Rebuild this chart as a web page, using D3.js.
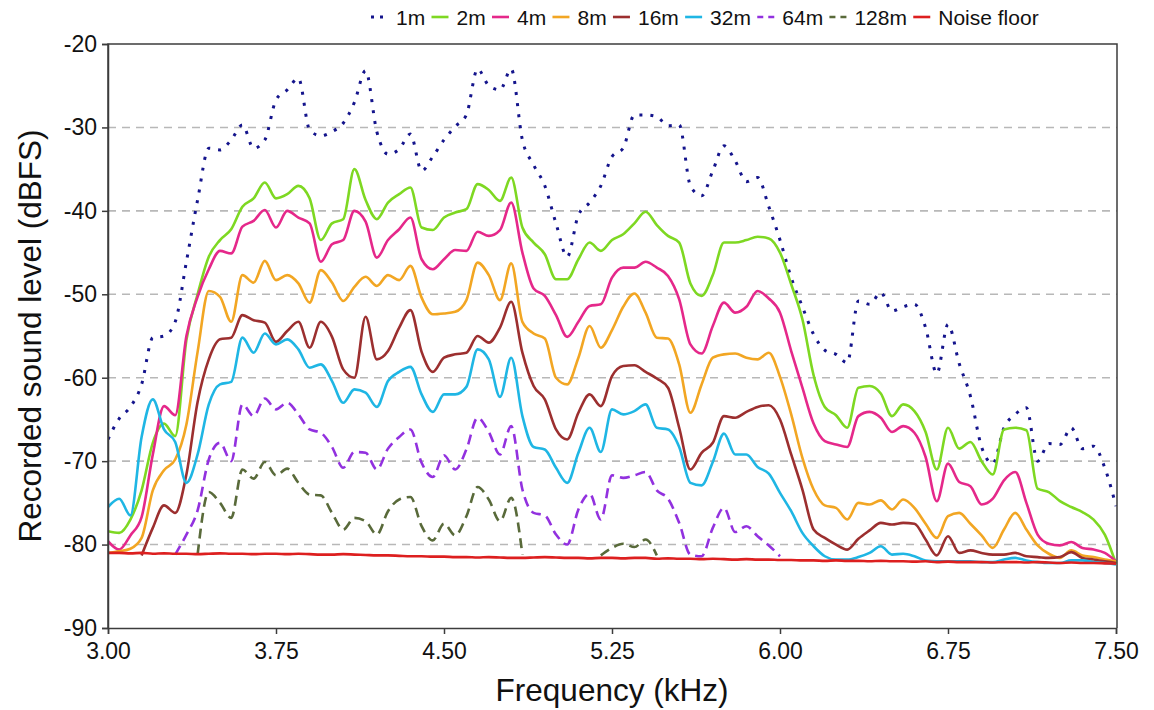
<!DOCTYPE html>
<html>
<head>
<meta charset="utf-8">
<script src="https://cdn.jsdelivr.net/npm/d3@7"></script>
<style>
  html, body { margin: 0; padding: 0; background: #ffffff; }
  svg { display: block; font-family: "Liberation Sans", Arial, sans-serif; }
</style>
</head>
<body>
<svg id="chart" width="1154" height="710"></svg>
<script>
// Frequency grid (kHz), shared by every series
const freqKHz = [
  3.00, 3.05, 3.10, 3.15, 3.20, 3.25, 3.30, 3.35, 3.40, 3.45,
  3.50, 3.55, 3.60, 3.65, 3.70, 3.75, 3.80, 3.85, 3.90, 3.95,
  4.00, 4.05, 4.10, 4.15, 4.20, 4.25, 4.30, 4.35, 4.40, 4.45,
  4.50, 4.55, 4.60, 4.65, 4.70, 4.75, 4.80, 4.85, 4.90, 4.95,
  5.00, 5.05, 5.10, 5.15, 5.20, 5.25, 5.30, 5.35, 5.40, 5.45,
  5.50, 5.55, 5.60, 5.65, 5.70, 5.75, 5.80, 5.85, 5.90, 5.95,
  6.00, 6.05, 6.10, 6.15, 6.20, 6.25, 6.30, 6.35, 6.40, 6.45,
  6.50, 6.55, 6.60, 6.65, 6.70, 6.75, 6.80, 6.85, 6.90, 6.95,
  7.00, 7.05, 7.10, 7.15, 7.20, 7.25, 7.30, 7.35, 7.40, 7.45,
  7.50
];

// Recorded sound level (dBFS) per recording distance; null = below noise floor
const level1m = [
  -67.4, -64.9, -63.5, -60.8, -55.2, -55.0, -53.3, -46.1, -38.7, -32.5,
  -32.7, -31.5, -29.7, -32.5, -31.5, -26.7, -25.5, -24.1, -30.3, -31.0,
  -30.5, -29.5, -27.0, -23.2, -30.5, -33.2, -32.6, -30.8, -35.2, -33.5,
  -31.5, -29.9, -28.5, -23.0, -25.0, -25.5, -23.0, -31.5, -34.5, -37.0,
  -41.5, -45.5, -40.5, -39.0, -37.0, -33.5, -32.5, -28.5, -28.5, -28.7,
  -29.8, -29.7, -37.0, -38.2, -35.2, -32.2, -34.0, -36.5, -36.0, -39.5,
  -43.5, -48.0, -51.5, -54.8, -56.7, -57.2, -58.2, -50.8, -51.2, -49.8,
  -52.0, -51.5, -51.2, -54.0, -59.5, -53.6, -58.3, -62.2, -68.3, -70.3,
  -66.0, -64.4, -63.6, -70.0, -67.9, -68.0, -66.0, -68.5, -68.2, -70.8,
  -75.4
];
const level2m = [
  -78.4, -78.6, -77.0, -73.5, -67.8, -65.5, -67.0, -55.5, -50.0, -45.5,
  -43.5, -42.2, -39.5, -38.5, -36.6, -38.5, -38.0, -37.0, -38.5, -43.5,
  -41.5, -41.0, -35.0, -38.7, -41.0, -39.0, -38.0, -37.2, -42.0, -42.3,
  -40.8, -40.2, -39.8, -36.8, -37.5, -38.8, -36.0, -42.0, -43.8, -45.2,
  -48.2, -48.2, -45.8, -43.8, -44.8, -43.5, -42.8, -41.5, -40.1, -41.7,
  -43.0, -43.8, -48.7, -50.2, -47.7, -43.8, -43.8, -43.5, -43.1, -43.3,
  -45.0, -48.8, -53.0, -59.7, -63.5, -64.5, -66.0, -61.2, -61.0, -61.9,
  -64.6, -63.2, -64.0, -66.5, -71.0, -66.0, -68.5, -67.7, -70.0, -71.6,
  -66.2, -66.0, -66.3, -73.3, -73.7, -74.8, -75.5, -76.1, -77.0, -78.8,
  -82.3
];
const level4m = [
  -79.6, -80.6, -78.9, -76.7, -69.2, -63.4, -64.5, -55.0, -50.3, -47.0,
  -44.8, -45.1, -41.9, -41.2, -39.9, -42.0, -40.0, -40.8, -41.5, -46.1,
  -44.0, -43.5, -40.0, -41.3, -45.6, -43.5, -42.2, -40.8, -45.8, -47.0,
  -45.8, -44.7, -44.8, -42.5, -43.0, -42.3, -39.0, -45.0, -49.3, -50.2,
  -52.5, -55.1, -53.3, -51.4, -51.2, -48.0, -46.8, -46.8, -46.1, -46.8,
  -47.8, -50.6, -56.0, -57.1, -53.8, -51.0, -52.2, -51.5, -49.6, -50.5,
  -52.2, -56.8, -61.2, -65.5, -67.6, -68.0, -68.3, -64.6, -64.1, -64.8,
  -66.5, -65.8, -66.6, -69.5, -74.8, -70.3, -72.5, -73.0, -75.2, -74.5,
  -72.3, -71.3, -75.0, -78.8, -79.9, -80.1, -79.7, -80.4, -80.6, -81.0,
  -82.0
];
const level8m = [
  -81.0, -80.8, -80.5, -79.2, -73.5, -71.1, -69.8, -65.6, -56.9, -49.6,
  -50.3, -53.3, -47.7, -48.6, -46.0, -48.3, -47.7, -48.7, -51.0, -47.1,
  -48.6, -50.8, -49.1, -47.9, -49.0, -47.7, -48.3, -46.6, -50.4, -52.4,
  -52.3, -52.1, -50.7, -46.2, -47.7, -50.7, -46.3, -53.3, -54.7, -55.3,
  -60.0, -60.8, -57.6, -53.8, -56.4, -54.3, -51.5, -49.9, -52.2, -55.2,
  -55.3, -58.4, -64.2, -60.8, -57.6, -57.2, -57.1, -57.6, -57.8, -57.0,
  -59.9, -64.4, -69.6, -73.4, -75.3, -75.6, -77.0, -75.0, -75.2, -74.7,
  -75.8, -74.6, -75.6, -77.5, -79.2, -76.6, -76.2, -77.5, -78.9, -80.4,
  -78.2, -76.2, -78.2, -80.1, -81.1, -81.6, -80.7, -81.3, -81.5, -81.8,
  -82.0
];
const level16m = [
  null, null, null, -81.3, -78.0, -75.3, -76.2, -71.6, -62.9, -57.8,
  -55.4, -55.2, -52.5, -53.1, -53.4, -55.7, -54.4, -53.3, -56.4, -53.3,
  -55.1, -59.0, -60.0, -52.7, -57.8, -56.8, -54.0, -51.9, -56.9, -59.3,
  -57.6, -57.2, -57.0, -55.0, -55.8, -54.0, -50.9, -57.0, -61.0, -62.6,
  -66.2, -67.4, -64.2, -62.0, -63.4, -59.8, -58.6, -58.5, -59.3, -60.1,
  -61.2, -66.0, -71.0, -69.0, -67.8, -64.6, -64.8, -64.1, -63.5, -63.3,
  -65.0, -69.2, -73.4, -78.2, -79.2, -80.0, -80.6, -79.3, -78.3, -77.4,
  -77.6, -77.4, -77.5, -79.4, -81.3, -79.0, -81.0, -80.7, -81.0, -81.2,
  -81.2, -81.0, -81.4, -81.5, -81.6, -81.5, -80.9, -81.6, -81.8, -82.0,
  -82.2
];
const level32m = [
  -75.5, -74.5, -76.5, -67.1, -62.6, -66.2, -67.7, -72.6, -69.2, -63.2,
  -60.8, -60.5, -55.2, -57.0, -54.7, -56.0, -55.4, -56.6, -58.8, -58.4,
  -60.4, -63.0, -61.4, -61.8, -63.5, -60.4, -59.3, -58.7, -62.0, -64.1,
  -62.0, -62.0, -61.1, -56.6, -57.8, -62.3, -57.6, -64.6, -68.3, -68.6,
  -70.8, -72.6, -69.0, -66.0, -68.9, -63.8, -64.4, -64.0, -63.2, -66.0,
  -66.2, -68.3, -72.6, -72.9, -70.1, -66.7, -69.2, -69.2, -70.7, -71.5,
  -73.8, -76.0, -78.6, -80.2, -81.4, -81.8, -81.8, -81.5, -81.0, -80.2,
  -81.2, -81.1, -81.4, -81.9, -82.0, -82.0, -82.0, -82.0, -82.1, -82.1,
  -81.8, -81.6, -81.9, -82.1, -82.2, -82.2, -81.9, -81.9, -82.1, -82.2,
  -82.4
];
const level64m = [
  null, null, null, null, null, null, -81.2, -78.8, -75.9, -69.8,
  -67.8, -70.0, -63.2, -64.6, -62.5, -63.8, -63.0, -64.4, -66.2, -66.6,
  -68.3, -70.8, -68.9, -69.0, -71.0, -68.5, -67.1, -66.2, -70.2, -71.9,
  -69.3, -71.0, -68.6, -64.8, -66.5, -69.2, -65.8, -73.4, -76.2, -76.5,
  -78.8, -80.0, -75.8, -73.9, -77.0, -71.7, -72.0, -71.7, -71.3, -73.5,
  -74.5, -77.4, -81.2, -81.4, -78.0, -75.6, -78.5, -77.8, -79.0, -80.1,
  -81.4, null, null, null, null, null, null, null, null, null,
  null, null, null, null, null, null, null, null, null, null,
  null, null, null, null, null, null, null, null, null, null,
  null
];
const level128m = [
  null, null, null, null, null, null, null, null, -81.2, -73.7,
  -75.0, -76.8, -71.0, -72.1, -70.1, -71.7, -70.9, -72.6, -74.0, -74.1,
  -76.2, -78.2, -76.8, -77.2, -78.8, -76.0, -74.6, -74.3, -77.8, -79.5,
  -77.5, -78.9, -76.6, -73.1, -74.6, -77.2, -74.4, -81.2, null, null,
  null, null, null, null, -81.3, -80.4, -79.9, -80.3, -79.4, -81.3,
  null, null, null, null, null, null, null, null, null, null,
  null, null, null, null, null, null, null, null, null, null,
  null, null, null, null, null, null, null, null, null, null,
  null, null, null, null, null, null, null, null, null, null,
  null
];
const noiseFloor = [
  -81.0, -81.0, -81.05, -81.0, -81.1, -81.05, -81.1, -81.1, -81.15, -81.1,
  -81.05, -81.1, -81.1, -81.15, -81.1, -81.1, -81.15, -81.1, -81.15, -81.2,
  -81.2, -81.15, -81.2, -81.25, -81.3, -81.3, -81.35, -81.4, -81.4, -81.45,
  -81.45, -81.5, -81.5, -81.55, -81.5, -81.55, -81.6, -81.6, -81.55, -81.5,
  -81.55, -81.6, -81.6, -81.65, -81.6, -81.6, -81.65, -81.6, -81.6, -81.7,
  -81.65, -81.7, -81.7, -81.75, -81.7, -81.75, -81.8, -81.75, -81.8, -81.8,
  -81.85, -81.85, -81.9, -81.9, -81.95, -81.9, -81.95, -81.95, -82.0, -81.95,
  -82.0, -82.0, -82.05, -82.0, -82.1, -82.05, -82.1, -82.1, -82.1, -82.15,
  -82.1, -82.1, -82.15, -82.1, -82.15, -82.2, -82.15, -82.2, -82.2, -82.25,
  -82.3
];

// Axis ticks
const yTicks = [-90, -80, -70, -60, -50, -40, -30, -20];
const xTicks = [3.00, 3.75, 4.50, 5.25, 6.00, 6.75, 7.50];
const gridLevels = [-80, -70, -60, -50, -40, -30];

// Series labels and styling (drawn in this order, noise floor on top)
const seriesLabels = ["1m", "2m", "4m", "8m", "16m", "32m", "64m", "128m", "Noise floor"];
const seriesValues = [level1m, level2m, level4m, level8m, level16m, level32m, level64m, level128m, noiseFloor];
const seriesColors = ["#14148c", "#7ed822", "#e5288a", "#f2a623", "#9c2f2f", "#1fb6e4", "#9231df", "#596a3a", "#dd1f1f"];
const seriesDash   = ["3,8", null, null, null, null, null, "10,6", "10,6", null];

const svg = d3.select("#chart");
const margin = { left: 108, right: 1116, top: 44, bottom: 628 };

const x = d3.scaleLinear().domain([3, 7.5]).range([margin.left, margin.right]);
const y = d3.scaleLinear().domain([-90, -20]).range([margin.bottom, margin.top]);

// Dashed horizontal grid
svg.append("g")
  .selectAll("line")
  .data(gridLevels)
  .join("line")
  .attr("x1", margin.left)
  .attr("x2", margin.right + 1)
  .attr("y1", d => y(d))
  .attr("y2", d => y(d))
  .attr("stroke", "#b8b8b8")
  .attr("stroke-width", 1.6)
  .attr("stroke-dasharray", "8,6");

// Clip lines to the plotting area
svg.append("defs").append("clipPath").attr("id", "plot-clip")
  .append("rect")
  .attr("x", margin.left).attr("y", margin.top)
  .attr("width", margin.right + 1 - margin.left)
  .attr("height", margin.bottom - margin.top);

const line = d3.line()
  .defined(d => d.v !== null)
  .x(d => x(d.f))
  .y(d => y(d.v))
  .curve(d3.curveMonotoneX);

const plot = svg.append("g").attr("clip-path", "url(#plot-clip)");
seriesValues.forEach((vals, i) => {
  const pts = freqKHz.map((f, k) => ({ f: f, v: vals[k] }));
  plot.append("path")
    .datum(pts)
    .attr("fill", "none")
    .attr("stroke", seriesColors[i])
    .attr("stroke-width", i === 0 ? 3 : 2.6)
    .attr("stroke-linejoin", "round")
    .attr("stroke-dasharray", seriesDash[i])
    .attr("d", line);
});

// Frame
const axisColor = "#3c3c3c";
svg.append("path")
  .attr("d", `M${margin.left},${margin.bottom}V${margin.top}H${margin.right + 1}V${margin.bottom}`)
  .attr("fill", "none")
  .attr("stroke", axisColor)
  .attr("stroke-width", 1.5);

// Y axis
const yAxis = svg.append("g")
  .attr("transform", `translate(${margin.left},0)`)
  .call(d3.axisLeft(y).tickValues(yTicks).tickFormat(d => String(d)).tickSize(6).tickPadding(5));
// X axis
const xAxis = svg.append("g")
  .attr("transform", `translate(0,${margin.bottom})`)
  .call(d3.axisBottom(x).tickValues(xTicks).tickFormat(d3.format(".2f")).tickSize(6).tickPadding(9));

[yAxis, xAxis].forEach(g => {
  g.select(".domain").attr("stroke", axisColor).attr("stroke-width", 1.5);
  g.selectAll(".tick line").attr("stroke", axisColor).attr("stroke-width", 1.5);
  g.selectAll(".tick text")
    .attr("fill", "#111")
    .style("font-size", "23px")
    .style("font-family", "'Liberation Sans', Arial, sans-serif");
});

// Axis titles
svg.append("text")
  .attr("x", (margin.left + margin.right) / 2)
  .attr("y", 701)
  .attr("text-anchor", "middle")
  .attr("fill", "#111")
  .style("font-size", "31.5px")
  .text("Frequency (kHz)");

svg.append("text")
  .attr("transform", `translate(41,${(margin.top + margin.bottom) / 2}) rotate(-90)`)
  .attr("text-anchor", "middle")
  .attr("fill", "#111")
  .style("font-size", "31.5px")
  .text("Recorded sound level (dBFS)");

// Legend across the top
const legend = svg.append("g").attr("transform", "translate(371,17)");
let lx = 0;
seriesLabels.forEach((label, i) => {
  const item = legend.append("g").attr("transform", `translate(${lx},0)`);
  item.append("line")
    .attr("x1", 0).attr("x2", 17)
    .attr("y1", 0).attr("y2", 0)
    .attr("stroke", seriesColors[i])
    .attr("stroke-width", i === 0 ? 3 : 2.6)
    .attr("stroke-dasharray", i === 0 ? "3,6" : (seriesDash[i] ? "6,5" : null));
  const t = item.append("text")
    .attr("x", 25)
    .attr("y", 7.5)
    .attr("fill", "#111")
    .style("font-size", "21px")
    .text(label);
  lx += 25 + t.node().getComputedTextLength() + 6.3;
});
</script>
</body>
</html>
